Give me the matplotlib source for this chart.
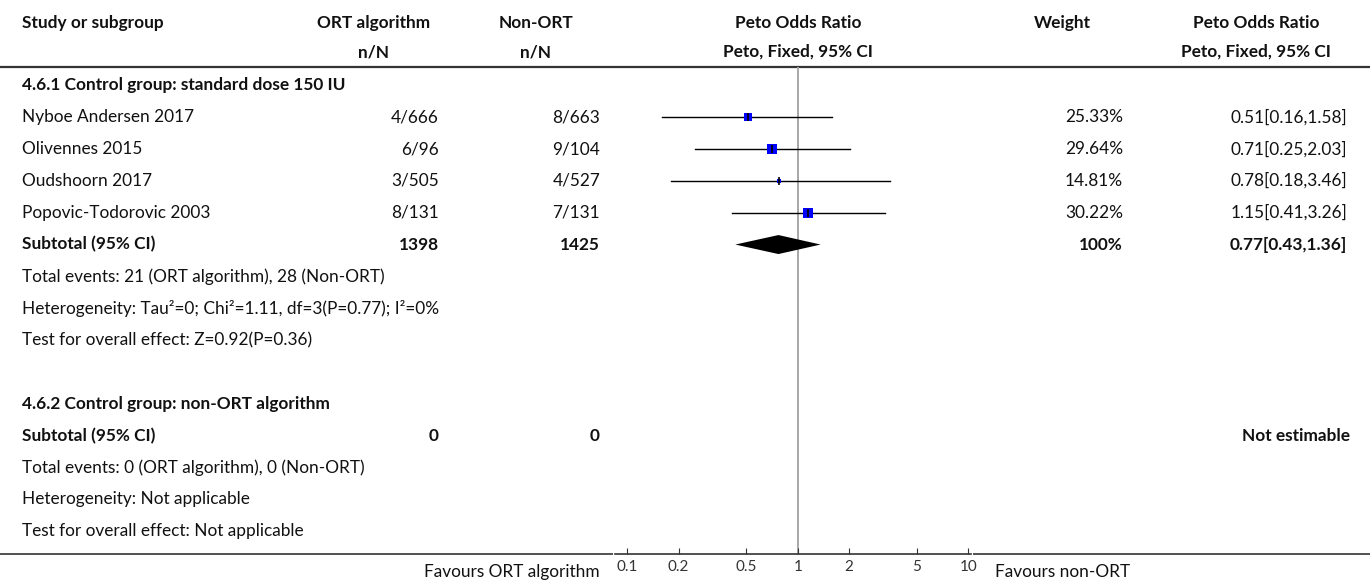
import matplotlib
matplotlib.use("Agg")
import matplotlib.pyplot as plt
import numpy as np

plt.rcParams['font.family'] = ['Lato', 'DejaVu Sans']

# ---------------- data ----------------
studies = ["Nyboe Andersen 2017", "Olivennes 2015", "Oudshoorn 2017", "Popovic-Todorovic 2003"]
ort_nN = ["4/666", "6/96", "3/505", "8/131"]
non_nN = ["8/663", "9/104", "4/527", "7/131"]
or_est = [0.51, 0.71, 0.78, 1.15]
or_lo = [0.16, 0.25, 0.18, 0.41]
or_hi = [1.58, 2.03, 3.46, 3.26]
weights = [25.33, 29.64, 14.81, 30.22]

sub1_ort_total = "1398"
sub1_non_total = "1425"
sub1_est, sub1_lo, sub1_hi = 0.77, 0.43, 1.36
sub1_weight = "100%"
sub1_notes = ["Total events: 21 (ORT algorithm), 28 (Non-ORT)",
              "Heterogeneity: Tau\u00b2=0; Chi\u00b2=1.11, df=3(P=0.77); I\u00b2=0%",
              "Test for overall effect: Z=0.92(P=0.36)"]
group1 = "4.6.1 Control group: standard dose 150 IU"
group2 = "4.6.2 Control group: non-ORT algorithm"
sub2_ort_total = "0"
sub2_non_total = "0"
sub2_effect = "Not estimable"
sub2_notes = ["Total events: 0 (ORT algorithm), 0 (Non-ORT)",
              "Heterogeneity: Not applicable",
              "Test for overall effect: Not applicable"]

xticks = [0.1, 0.2, 0.5, 1, 2, 5, 10]
xticklabels = ["0.1", "0.2", "0.5", "1", "2", "5", "10"]
fav_left = "Favours ORT algorithm"
fav_right = "Favours non-ORT"

# ---------------- layout ----------------
W, H = 1370, 583
DPI = 100
fig = plt.figure(figsize=(W / DPI, H / DPI), dpi=DPI)

ROW0, ROWH = 85.3, 31.85   # pixel y of row 0, row pitch
def k_of(py):
    return (py - ROW0) / ROWH

ax0 = fig.add_axes([0, 0, 1, 1])
ax0.set_xlim(0, W)
ax0.set_ylim(k_of(H), k_of(0))
ax0.axis("off")

TXT = "#111111"
FS = 12.4
LEFT = 22
C_ORT = 439
C_NON = 600
C_W = 1123
C_EFF = 1347

def txt(x, y, s, bold=False, ha="left", fs=FS):
    ax0.text(x, y, s, fontsize=fs, fontweight="bold" if bold else "normal",
             color=TXT, va="center", ha=ha)

# headers
hy1, hy2 = k_of(23), k_of(52)
txt(LEFT, hy1, "Study or subgroup", bold=True)
txt(374, hy1, "ORT algorithm", bold=True, ha="center")
txt(374, hy2, "n/N", bold=True, ha="center")
txt(536, hy1, "Non-ORT", bold=True, ha="center")
txt(536, hy2, "n/N", bold=True, ha="center")
txt(798, hy1, "Peto Odds Ratio", bold=True, ha="center")
txt(798, hy2, "Peto, Fixed, 95% CI", bold=True, ha="center")
txt(1062, hy1, "Weight", bold=True, ha="center")
txt(1256, hy1, "Peto Odds Ratio", bold=True, ha="center")
txt(1256, hy2, "Peto, Fixed, 95% CI", bold=True, ha="center")

# header rule
ax0.plot([0, W], [k_of(67), k_of(67)], color="#333333", lw=1.6, solid_capstyle="butt")

# group 1
txt(LEFT, 0, group1, bold=True)
for i, s in enumerate(studies):
    r = 1 + i
    txt(LEFT, r, s)
    txt(C_ORT, r, ort_nN[i], ha="right")
    txt(C_NON, r, non_nN[i], ha="right")
    txt(C_W, r, f"{weights[i]:.2f}%", ha="right")
    txt(C_EFF, r, f"{or_est[i]:.2f}[{or_lo[i]:.2f},{or_hi[i]:.2f}]", ha="right")

r = 5
txt(LEFT, r, "Subtotal (95% CI)", bold=True)
txt(C_ORT, r, sub1_ort_total, bold=True, ha="right")
txt(C_NON, r, sub1_non_total, bold=True, ha="right")
txt(C_W, r, sub1_weight, bold=True, ha="right")
txt(C_EFF, r, f"{sub1_est:.2f}[{sub1_lo:.2f},{sub1_hi:.2f}]", bold=True, ha="right")
for j, t in enumerate(sub1_notes):
    txt(LEFT, 6 + j, t)

# group 2
txt(LEFT, 10, group2, bold=True)
txt(LEFT, 11, "Subtotal (95% CI)", bold=True)
txt(C_ORT, 11, sub2_ort_total, bold=True, ha="right")
txt(C_NON, 11, sub2_non_total, bold=True, ha="right")
txt(C_EFF + 3, 11, sub2_effect, bold=True, ha="right")
for j, t in enumerate(sub2_notes):
    txt(LEFT, 12 + j, t)

# bottom rule (outside the forest axis)
ybot = k_of(554)
ax0.plot([0, 613], [ybot, ybot], color="#333333", lw=1.2, solid_capstyle="butt")
ax0.plot([973, W], [ybot, ybot], color="#333333", lw=1.2, solid_capstyle="butt")

# favours labels
txt(600, k_of(572), fav_left, ha="right")
txt(995, k_of(572), fav_right, ha="left")

# ---------------- forest axes ----------------
PX_L, PX_R = 615, 971
PX_T, PX_B = 67, 554
axf = fig.add_axes([PX_L / W, (H - PX_B) / H, (PX_R - PX_L) / W, (PX_B - PX_T) / H])
axf.set_xscale("log")
dec = (968.3 - 627.3) / 2.0
axf.set_xlim(10 ** (-1 - (627.3 - PX_L) / dec), 10 ** (1 + (PX_R - 968.3) / dec))
axf.set_ylim(k_of(PX_B), k_of(PX_T))
axf.patch.set_alpha(0)
for sp in ["top", "left", "right"]:
    axf.spines[sp].set_visible(False)
axf.spines["bottom"].set_color("#333333")
axf.spines["bottom"].set_linewidth(1.2)
axf.set_yticks([])
axf.set_xticks(xticks)
axf.set_xticklabels(xticklabels)
axf.minorticks_off()
axf.tick_params(axis="x", direction="in", length=4, width=0.8, color="#333333",
                labelsize=11, labelcolor="#333333", pad=4)

# reference line
axf.axvline(1, color="#a8a8a8", lw=1.4, zorder=1)

for i in range(len(studies)):
    r = 1 + i
    axf.plot([or_lo[i], or_hi[i]], [r, r], color="black", lw=1.0, zorder=2)
    side_px = weights[i] * 0.32
    axf.plot([or_est[i]], [r], marker="s", ms=side_px * 0.72, color="#0000ff", mec="#0000ff", mew=0, zorder=3)
    axf.plot([or_est[i]], [r], marker="|", ms=8 * 0.72, color="black", mew=1.2, zorder=4)

hh = 9.5 / ROWH
axf.fill([sub1_lo, sub1_est, sub1_hi, sub1_est], [5, 5 - hh, 5, 5 + hh], color="black", lw=0, zorder=3)

fig.savefig("out.png", dpi=DPI)
